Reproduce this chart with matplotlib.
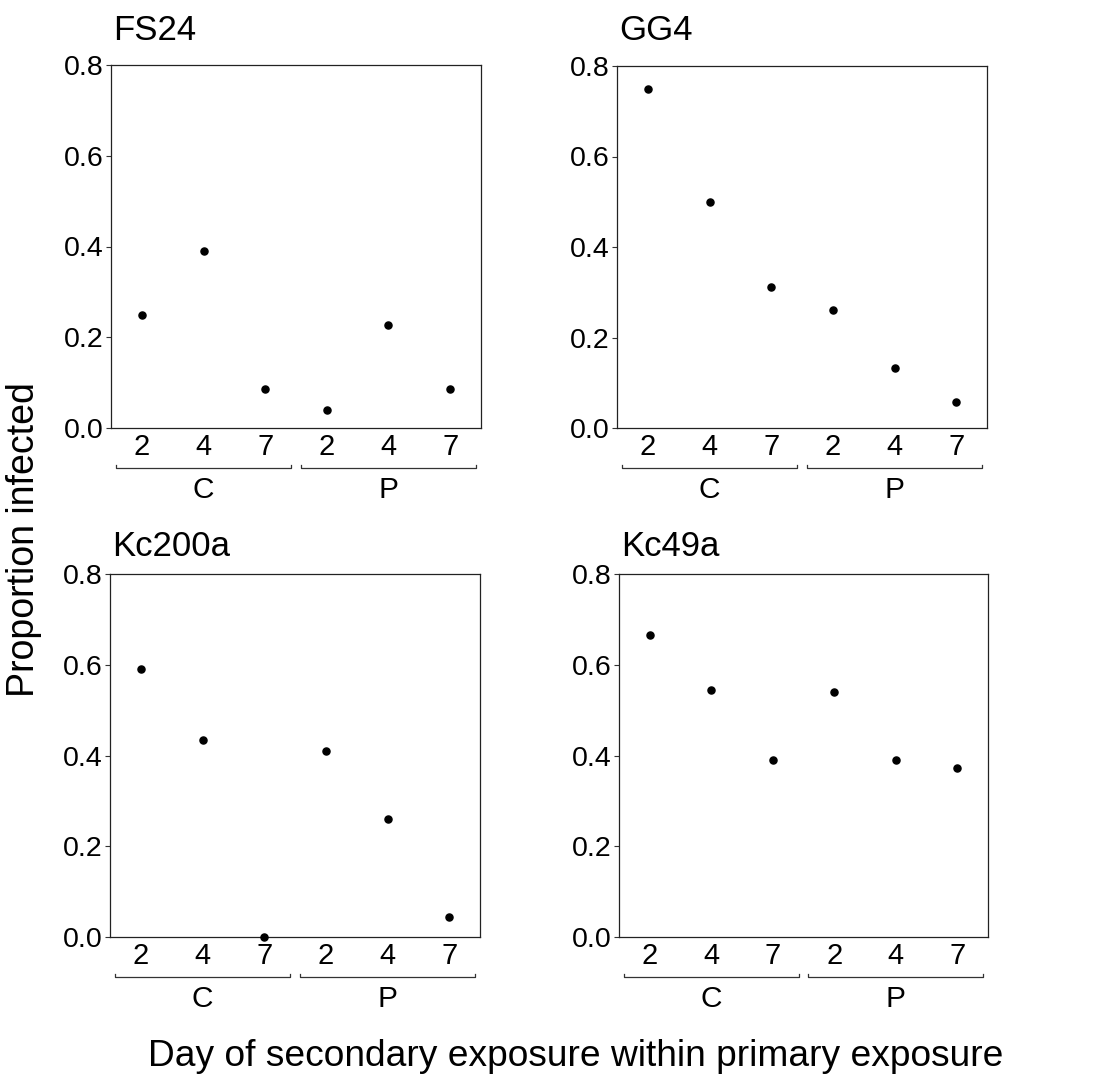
import matplotlib
matplotlib.use("Agg")
import matplotlib.pyplot as plt
import matplotlib.transforms as mtransforms

plt.rcParams['font.family'] = ['Liberation Sans', 'DejaVu Sans']

# ---- data ----
panels = ["FS24", "GG4", "Kc200a", "Kc49a"]
days = ["2", "4", "7", "2", "4", "7"]
groups = ["C", "P"]
fs24 = [0.249, 0.390, 0.086, 0.040, 0.227, 0.086]
gg4 = [0.749, 0.500, 0.311, 0.261, 0.132, 0.057]
kc200a = [0.591, 0.434, 0.000, 0.409, 0.259, 0.043]
kc49a = [0.666, 0.544, 0.389, 0.540, 0.389, 0.373]
values = [fs24, gg4, kc200a, kc49a]
yticks = [0.0, 0.2, 0.4, 0.6, 0.8]
ytick_labels = ["0.0", "0.2", "0.4", "0.6", "0.8"]

W, H = 1120, 1087
fig = plt.figure(figsize=(W / 100, H / 100), dpi=100)

# axes boxes in pixels: left, top, right, bottom
boxes = [(111, 65, 481, 428), (617, 66, 987, 428),
         (110, 574, 480, 937), (619, 574, 988, 937)]
title_gap = [25, 26, 18, 18]

x = list(range(1, len(days) + 1))
for name, vals, (l, t, r, b), tg in zip(panels, values, boxes, title_gap):
    ax = fig.add_axes([l / W, 1 - b / H, (r - l) / W, (b - t) / H])
    ax.scatter(x, vals, s=26, color="black", zorder=3, clip_on=False)
    ax.set_xlim(0.5, 6.5)
    ax.set_ylim(0, 0.8)
    ax.set_yticks(yticks)
    ax.set_yticklabels(ytick_labels)
    ax.set_xticks(x)
    ax.set_xticklabels(days)
    ax.tick_params(axis="y", labelsize=20.5, length=3.6, width=0.8, pad=1.5,
                   color="#333333")
    ax.tick_params(axis="x", labelsize=21, length=0, pad=3.5)
    for sp in ax.spines.values():
        sp.set_linewidth(0.9)
        sp.set_color("#222222")
    hpx = b - t
    ax.text(0.005, 1 + tg / hpx, name, transform=ax.transAxes, fontsize=25,
            ha="left", va="baseline")
    trans = mtransforms.blended_transform_factory(ax.transData, ax.transAxes)
    yb = -39.7 / hpx
    ytk = -36.5 / hpx
    for gi, g in enumerate(groups):
        c = 2 + 3 * gi
        x0, x1 = c - 1.42, c + 1.42
        ax.plot([x0, x0, x1, x1], [ytk, yb, yb, ytk], transform=trans,
                color="#333333", lw=0.9, clip_on=False)
        ax.text(c, -70.3 / hpx, g, transform=trans, fontsize=21.5,
                ha="center", va="baseline")

fig.text(24.5 / W, 1 - 540 / H, "Proportion infected", rotation=90,
         fontsize=27, ha="center", va="center")
fig.text(575.7 / W, 1 - 1065.7 / H,
         "Day of secondary exposure within primary exposure",
         fontsize=26.7, ha="center", va="baseline")

fig.savefig("out.png", dpi=100, facecolor="white")
